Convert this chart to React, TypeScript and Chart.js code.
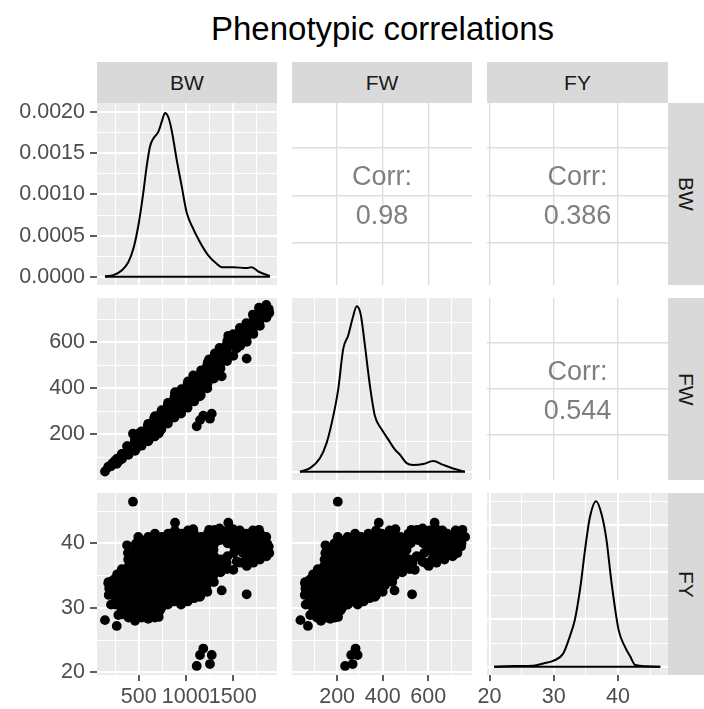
import React, { useEffect, useRef } from 'react';
import { Chart, registerables } from 'chart.js';

Chart.register(...registerables);

// ---------------- data ----------------
const TITLE = 'Phenotypic correlations';
const VARIABLES = ['BW', 'FW', 'FY'];
const CORR_LABEL = 'Corr:';
const CORR_BW_FW = '0.98';
const CORR_BW_FY = '0.386';
const CORR_FW_FY = '0.544';

const BW_LIMITS = [55, 1972];
const FW_LIMITS = [2, 792];
const FY_LIMITS = [19.6, 47.8];
const BW_DENS_LIMITS = [-0.0001, 0.00211];
const FW_DENS_LIMITS = [-0.000278, 0.00584];
const FY_DENS_LIMITS = [-0.00875, 0.18375];

const BW_BREAKS = [500, 1000, 1500];
const BW_LABELS = ['500', '1000', '1500'];
const BW_MINOR = [250, 750, 1250, 1750];
const FW_BREAKS = [200, 400, 600];
const FW_LABELS = ['200', '400', '600'];
const FW_MINOR = [100, 300, 500, 700];
const FY_BREAKS = [20, 30, 40];
const FY_LABELS = ['20', '30', '40'];
const FY_MINOR = [25, 35, 45];
const BW_DENS_BREAKS = [0, 0.0005, 0.001, 0.0015, 0.002];
const BW_DENS_LABELS = ['0.0000', '0.0005', '0.0010', '0.0015', '0.0020'];
const BW_DENS_MINOR = [0.00025, 0.00075, 0.00125, 0.00175];
const FW_DENS_BREAKS = [0, 0.002, 0.004];
const FW_DENS_MINOR = [0.001, 0.003, 0.005];
const FY_DENS_BREAKS = [0, 0.05, 0.1, 0.15];
const FY_DENS_MINOR = [0.025, 0.075, 0.125, 0.175];

// kernel density curves (value, density)
const BW_DENS_X = [140, 229, 318, 388, 442, 495, 548, 584, 619, 655, 708, 744, 779, 814, 850, 904, 957, 1010, 1064, 1152, 1240, 1330, 1383, 1507, 1650, 1703, 1773, 1897];
const BW_DENS_Y = [0.000005, 0.00002, 0.000076, 0.000177, 0.00034, 0.00062, 0.00102, 0.00134, 0.00158, 0.00168, 0.00176, 0.00188, 0.00199, 0.00194, 0.00178, 0.00142, 0.0011, 0.00078, 0.00062, 0.00042, 0.00026, 0.000157, 0.000117, 0.000117, 0.000105, 0.000117, 0.000064, 0.000008];
const FW_DENS_X = [37, 81, 125, 154, 183, 205, 227, 249, 268, 286, 304, 322, 344, 366, 396, 425, 454, 476, 505, 534, 578, 622, 666, 717, 761];
const FW_DENS_Y = [0, 0.00012, 0.00046, 0.00097, 0.00187, 0.00278, 0.00414, 0.00459, 0.00516, 0.00556, 0.00527, 0.00425, 0.00289, 0.00187, 0.00142, 0.00108, 0.00074, 0.00057, 0.00029, 0.00023, 0.00026, 0.00036, 0.00023, 0.00009, 0];
const FY_DENS_X = [20.7, 23.7, 26.8, 28.4, 29.9, 31.5, 32.5, 33.3, 34.1, 34.9, 35.6, 36.6, 37.5, 38.2, 39.0, 40.1, 41.1, 41.9, 42.7, 46.6];
const FY_DENS_Y = [0, 0.0007, 0.0011, 0.0035, 0.0061, 0.0143, 0.032, 0.05, 0.082, 0.125, 0.157, 0.175, 0.16, 0.135, 0.089, 0.039, 0.021, 0.011, 0.0018, 0];

// individual fish: [BW, FW, FY]
const SMALL_FISH = [
  [140, 39, 28.1], [265, 72, 27.2], [204, 62, 30.5], [175, 59, 33.8], [282, 82, 28.9],
  [180, 58, 32.0], [185, 61, 33.0], [178, 60, 34.0], [215, 70, 32.5], [220, 75, 34.2],
  [250, 76, 30.5], [255, 80, 31.5], [245, 80, 32.5], [252, 84, 33.5], [248, 86, 34.5], [270, 95, 35.2],
  [320, 93, 29.0], [315, 95, 30.0], [325, 101, 31.0], [318, 102, 32.0], [322, 106, 33.0], [316, 107, 34.0], [324, 113, 35.0], [319, 115, 36.0],
  [390, 111, 28.5], [385, 114, 29.5], [395, 120, 30.5], [388, 122, 31.5], [392, 127, 32.5], [386, 129, 33.5], [394, 136, 34.5], [389, 138, 35.5], [393, 143, 36.5], [387, 145, 37.5], [384, 148, 38.5], [375, 149, 39.7],
];
const MEDIUM_FISH_A = [
  [460, 129, 28.0], [468, 136, 29.0], [455, 137, 30.0], [463, 144, 31.0], [458, 147, 32.0], [466, 154, 33.0], [452, 154, 34.0], [461, 161, 35.0], [457, 165, 36.0], [465, 172, 37.0], [459, 174, 38.0], [462, 180, 39.0], [470, 188, 40.0], [495, 203, 41.0],
  [530, 151, 28.5], [524, 155, 29.5], [536, 163, 30.5], [528, 166, 31.5], [533, 173, 32.5], [526, 176, 33.5], [538, 186, 34.5], [531, 189, 35.5], [525, 192, 36.5], [535, 201, 37.5], [529, 204, 38.5], [534, 211, 39.5], [527, 213, 40.5],
  [600, 170, 28.3], [606, 176, 29.0], [595, 179, 30.0], [603, 187, 31.0], [598, 191, 32.0], [607, 200, 33.0], [594, 202, 34.0], [602, 211, 35.0], [597, 215, 36.0], [605, 224, 37.0], [599, 228, 38.0], [604, 236, 39.0], [596, 238, 40.0], [601, 246, 41.0],
  [670, 191, 28.5], [664, 196, 29.5], [676, 206, 30.5], [668, 210, 31.5], [673, 219, 32.5], [665, 223, 33.5], [678, 234, 34.5], [671, 238, 35.5], [666, 243, 36.5], [674, 253, 37.5], [669, 258, 38.5], [677, 267, 39.5], [663, 269, 40.5], [672, 279, 41.5],
  [712, 204, 28.6], [725, 215, 29.6],
  [740, 222, 30.0], [735, 228, 31.0], [746, 239, 32.0], [738, 244, 33.0], [743, 253, 34.0], [736, 258, 35.0], [748, 269, 36.0], [741, 274, 37.0], [734, 279, 38.0], [745, 291, 39.0], [739, 296, 40.0], [744, 305, 41.0],
];
const MEDIUM_FISH_B = [
  [810, 247, 30.5], [804, 253, 31.5], [816, 265, 32.5], [808, 271, 33.5], [813, 280, 34.5], [805, 286, 35.5], [818, 299, 36.5], [811, 304, 37.5], [806, 310, 38.5], [815, 322, 39.5], [809, 328, 40.5], [812, 337, 41.5],
  [880, 273, 31.0], [874, 280, 32.0], [886, 292, 33.0], [878, 299, 34.0], [883, 309, 35.0], [875, 315, 36.0], [888, 329, 37.0], [881, 335, 38.0], [876, 342, 39.0], [885, 354, 40.0], [879, 360, 41.0], [884, 371, 42.0], [886, 383, 43.2],
  [950, 290, 30.5], [944, 297, 31.5], [956, 311, 32.5], [948, 318, 33.5], [953, 329, 34.5], [945, 335, 35.5], [958, 350, 36.5], [951, 357, 37.5], [946, 364, 38.5], [955, 377, 39.5], [949, 384, 40.5], [954, 396, 41.5],
  [1020, 316, 31.0], [1014, 324, 32.0], [1026, 339, 33.0], [1018, 346, 34.0], [1023, 358, 35.0], [1015, 365, 36.0], [1028, 380, 37.0], [1021, 388, 38.0], [1016, 396, 39.0], [1025, 410, 40.0], [1019, 418, 41.0], [1024, 430, 42.0],
  [1090, 343, 31.5], [1084, 352, 32.5], [1096, 367, 33.5], [1088, 375, 34.5], [1093, 388, 35.5], [1085, 396, 36.5], [1098, 412, 37.5], [1091, 420, 38.5], [1086, 429, 39.5], [1095, 443, 40.5], [1089, 452, 41.5], [1080, 456, 42.2],
];
const MEDIUM_FISH_C = [
  [1160, 371, 32.0], [1154, 381, 33.0], [1166, 396, 34.0], [1158, 405, 35.0], [1163, 419, 36.0], [1155, 427, 37.0], [1168, 444, 38.0], [1161, 453, 39.0], [1156, 462, 40.0], [1165, 478, 41.0], [1150, 365, 31.7],
  [1230, 400, 32.5], [1224, 410, 33.5], [1236, 426, 34.5], [1228, 436, 35.5], [1233, 450, 36.5], [1225, 459, 37.5], [1238, 477, 38.5], [1231, 486, 39.5], [1226, 497, 40.5], [1235, 513, 41.5], [1250, 526, 42.1],
  [1300, 442, 34.0], [1294, 453, 35.0], [1306, 470, 36.0], [1298, 480, 37.0], [1303, 495, 38.0], [1296, 505, 39.0], [1308, 523, 40.0], [1301, 533, 41.0], [1310, 551, 42.1],
  [1370, 486, 35.5], [1364, 498, 36.5], [1376, 516, 37.5], [1368, 554, 40.5], [1373, 570, 41.5], [1383, 452, 32.7], [1360, 575, 42.3],
];
const LARGE_FISH = [
  [1440, 518, 36.0], [1436, 531, 37.0], [1445, 549, 38.0], [1446, 578, 40.0], [1436, 589, 41.0], [1443, 606, 42.0], [1453, 628, 43.2],
  [1507, 541, 35.9], [1543, 574, 37.2], [1512, 582, 38.5], [1514, 598, 39.5], [1506, 610, 40.5], [1512, 627, 41.5], [1505, 635, 42.2],
  [1580, 585, 37.0], [1610, 620, 38.5], [1584, 618, 39.0], [1577, 631, 40.0], [1583, 649, 41.0], [1576, 662, 42.0],
  [1650, 602, 36.5], [1644, 617, 37.5], [1656, 638, 38.5], [1648, 651, 39.5], [1653, 669, 40.5], [1645, 683, 41.5], [1649, 529, 32.1],
  [1720, 636, 37.0], [1714, 651, 38.0], [1726, 673, 39.0], [1718, 687, 40.0], [1723, 706, 41.0], [1715, 720, 42.0],
  [1790, 671, 37.5], [1784, 687, 38.5], [1796, 709, 39.5], [1788, 724, 40.5], [1793, 744, 41.5], [1780, 750, 42.1],
  [1860, 707, 38.0], [1854, 723, 39.0], [1866, 746, 40.0], [1858, 762, 41.0],
  [1890, 728, 38.5], [1884, 744, 39.5],
];
const LOW_YIELD_FISH = [[1187, 281, 23.7], [1152, 262, 22.7], [1277, 290, 22.7], [1117, 235, 21.0], [1258, 268, 21.3]];
const HIGH_YIELD_FISH = [[438, 203, 46.45]];

const ALL_FISH = [...SMALL_FISH, ...MEDIUM_FISH_A, ...MEDIUM_FISH_B, ...MEDIUM_FISH_C, ...LARGE_FISH, ...LOW_YIELD_FISH, ...HIGH_YIELD_FISH];

// ---------------- layout & style ----------------
const W = 704;
const H = 709;
const COLS = [[97, 277], [292, 472], [487, 668]];
const ROWS = [[103, 285], [298, 480], [493, 675]];
const Y_AXIS_W = 97;
const X_AXIS_H = H - 675;
const FONT = "'Liberation Sans', Arial, Helvetica, sans-serif";
const PANEL_BG = '#EBEBEB';
const CORR_GRID = '#DEDEDE';
const TICK_FONT_SIZE = 21.5;

type Axis = { limits: number[]; breaks: number[]; labels: string[]; minor: number[] };

const BW_AXIS: Axis = { limits: BW_LIMITS, breaks: BW_BREAKS, labels: BW_LABELS, minor: BW_MINOR };
const FW_AXIS: Axis = { limits: FW_LIMITS, breaks: FW_BREAKS, labels: FW_LABELS, minor: FW_MINOR };
const FY_AXIS: Axis = { limits: FY_LIMITS, breaks: FY_BREAKS, labels: FY_LABELS, minor: FY_MINOR };
const BW_DENS_AXIS: Axis = { limits: BW_DENS_LIMITS, breaks: BW_DENS_BREAKS, labels: BW_DENS_LABELS, minor: BW_DENS_MINOR };
const FW_DENS_AXIS: Axis = { limits: FW_DENS_LIMITS, breaks: FW_DENS_BREAKS, labels: [], minor: FW_DENS_MINOR };
const FY_DENS_AXIS: Axis = { limits: FY_DENS_LIMITS, breaks: FY_DENS_BREAKS, labels: [], minor: FY_DENS_MINOR };

type PanelSpec = {
  r: number; c: number; kind: 'density' | 'scatter' | 'corr';
  x: Axis; y: Axis;
  dx?: number[]; dy?: number[];
  xi?: number; yi?: number;
  text?: string;
};

const PANELS: PanelSpec[] = [
  { r: 0, c: 0, kind: 'density', x: BW_AXIS, y: BW_DENS_AXIS, dx: BW_DENS_X, dy: BW_DENS_Y },
  { r: 0, c: 1, kind: 'corr', x: FW_AXIS, y: BW_AXIS, text: CORR_BW_FW },
  { r: 0, c: 2, kind: 'corr', x: FY_AXIS, y: BW_AXIS, text: CORR_BW_FY },
  { r: 1, c: 0, kind: 'scatter', x: BW_AXIS, y: FW_AXIS, xi: 0, yi: 1 },
  { r: 1, c: 1, kind: 'density', x: FW_AXIS, y: FW_DENS_AXIS, dx: FW_DENS_X, dy: FW_DENS_Y },
  { r: 1, c: 2, kind: 'corr', x: FY_AXIS, y: FW_AXIS, text: CORR_FW_FY },
  { r: 2, c: 0, kind: 'scatter', x: BW_AXIS, y: FY_AXIS, xi: 0, yi: 2 },
  { r: 2, c: 1, kind: 'scatter', x: FW_AXIS, y: FY_AXIS, xi: 1, yi: 2 },
  { r: 2, c: 2, kind: 'density', x: FY_AXIS, y: FY_DENS_AXIS, dx: FY_DENS_X, dy: FY_DENS_Y },
];

function buildScale(axis: Axis, show: boolean, isX: boolean, corr: boolean) {
  const list = [
    ...axis.breaks.map((v, i) => ({ value: v, label: axis.labels[i] ?? '', major: true })),
    ...(corr ? [] : axis.minor.map((v) => ({ value: v, label: '', major: false }))),
  ].sort((a, b) => a.value - b.value);
  return {
    type: 'linear',
    position: isX ? 'bottom' : 'left',
    min: axis.limits[0],
    max: axis.limits[1],
    afterBuildTicks: (s: any) => {
      s.ticks = list.map((t) => ({ value: t.value }));
    },
    afterFit: (s: any) => {
      if (isX) s.height = show ? X_AXIS_H : 0;
      else s.width = show ? Y_AXIS_W : 0;
      s.paddingLeft = 0; s.paddingRight = 0; s.paddingTop = 0; s.paddingBottom = 0;
    },
    border: { display: false },
    grid: {
      color: () => (corr ? CORR_GRID : '#FFFFFF'),
      lineWidth: (ctx: any) => (corr ? 1.4 : list[ctx.index] && list[ctx.index].major ? 2 : 1),
      drawTicks: show,
      tickLength: isX ? 6 : 7,
      tickWidth: 1.6,
      tickColor: (ctx: any) => (list[ctx.index] && list[ctx.index].major ? '#333333' : 'rgba(0,0,0,0)'),
    },
    ticks: {
      display: show,
      autoSkip: false,
      maxRotation: 0,
      minRotation: 0,
      padding: isX ? 3 : 5,
      color: '#4D4D4D',
      font: { family: FONT, size: TICK_FONT_SIZE },
      callback: (_v: any, i: number) => (list[i] ? list[i].label : ''),
    },
  };
}

const bgPlugin = {
  id: 'panelBg',
  beforeDraw(chart: any, _args: any, opts: any) {
    const { ctx, chartArea: a } = chart;
    ctx.save();
    ctx.fillStyle = opts.color;
    ctx.fillRect(a.left, a.top, a.right - a.left, a.bottom - a.top);
    ctx.restore();
  },
};

const corrPlugin = {
  id: 'corrText',
  afterDraw(chart: any, _args: any, opts: any) {
    if (!opts.text) return;
    const { ctx, chartArea: a } = chart;
    const cx = (a.left + a.right) / 2;
    ctx.save();
    ctx.fillStyle = '#7F7F7F';
    ctx.font = `27px ${FONT}`;
    ctx.textAlign = 'center';
    ctx.textBaseline = 'middle';
    ctx.fillText(CORR_LABEL, cx, a.top + 75);
    ctx.fillText(opts.text, cx, a.top + 114);
    ctx.restore();
  },
};

function buildConfig(p: PanelSpec): any {
  const showX = p.r === 2;
  const showY = p.c === 0;
  const corr = p.kind === 'corr';
  const [cl, cr] = COLS[p.c];
  const [rt, rb] = ROWS[p.r];
  const datasets: any[] = [];
  if (p.kind === 'scatter') {
    datasets.push({
      data: ALL_FISH.map((f) => ({ x: f[p.xi as number], y: f[p.yi as number] })),
      pointRadius: 4.9,
      pointHoverRadius: 4.9,
      pointBackgroundColor: '#000000',
      pointBorderWidth: 0,
      showLine: false,
    });
  } else if (p.kind === 'density') {
    const dx = p.dx as number[];
    const dy = p.dy as number[];
    const line = { showLine: true, pointRadius: 0, pointHoverRadius: 0, borderColor: '#000000', borderWidth: 2, fill: false };
    datasets.push({ ...line, cubicInterpolationMode: 'monotone', data: dx.map((x, i) => ({ x, y: dy[i] })) });
    datasets.push({ ...line, tension: 0, data: [{ x: dx[0], y: 0 }, { x: dx[dx.length - 1], y: 0 }] });
  }
  return {
    type: 'scatter',
    data: { datasets },
    plugins: [bgPlugin, corrPlugin],
    options: {
      animation: false,
      responsive: false,
      maintainAspectRatio: false,
      events: [],
      layout: {
        padding: {
          left: showY ? 0 : cl,
          right: W - cr,
          top: rt,
          bottom: showX ? 0 : H - rb,
        },
      },
      scales: {
        x: buildScale(p.x, showX, true, corr),
        y: buildScale(p.y, showY, false, corr),
      },
      plugins: {
        legend: { display: false },
        tooltip: { enabled: false },
        panelBg: { color: corr ? '#FFFFFF' : PANEL_BG },
        corrText: { text: p.text || '' },
      },
    },
  };
}

function Panel({ spec }: { spec: PanelSpec }) {
  const ref = useRef<HTMLCanvasElement>(null);
  useEffect(() => {
    const chart = new Chart(ref.current as HTMLCanvasElement, buildConfig(spec));
    return () => chart.destroy();
  }, [spec]);
  return <canvas ref={ref} width={W} height={H} style={{ position: 'absolute', left: 0, top: 0, width: W, height: H }} />;
}

export default function App() {
  const stripBase: React.CSSProperties = {
    position: 'absolute',
    background: '#D9D9D9',
    color: '#1A1A1A',
    font: `21px ${FONT}`,
    display: 'flex',
    alignItems: 'center',
    justifyContent: 'center',
  };
  return (
    <div style={{ position: 'absolute', left: 0, top: 0, width: W, height: H, background: '#FFFFFF', overflow: 'hidden' }}>
      <div
        style={{
          position: 'absolute', left: COLS[0][0], width: COLS[2][1] - COLS[0][0], top: 10, height: 40,
          lineHeight: '40px', textAlign: 'center', font: `33px ${FONT}`, color: '#000000',
        }}
      >
        {TITLE}
      </div>
      {VARIABLES.map((v, i) => (
        <div key={'top' + v} style={{ ...stripBase, left: COLS[i][0], width: COLS[i][1] - COLS[i][0], top: 62, height: ROWS[0][0] - 62 }}>
          {v}
        </div>
      ))}
      {VARIABLES.map((v, i) => (
        <div key={'right' + v} style={{ ...stripBase, left: COLS[2][1], width: W - COLS[2][1], top: ROWS[i][0], height: ROWS[i][1] - ROWS[i][0] }}>
          <span style={{ writingMode: 'vertical-rl' }}>{v}</span>
        </div>
      ))}
      {PANELS.map((p) => (
        <Panel key={`${p.r}-${p.c}`} spec={p} />
      ))}
    </div>
  );
}
